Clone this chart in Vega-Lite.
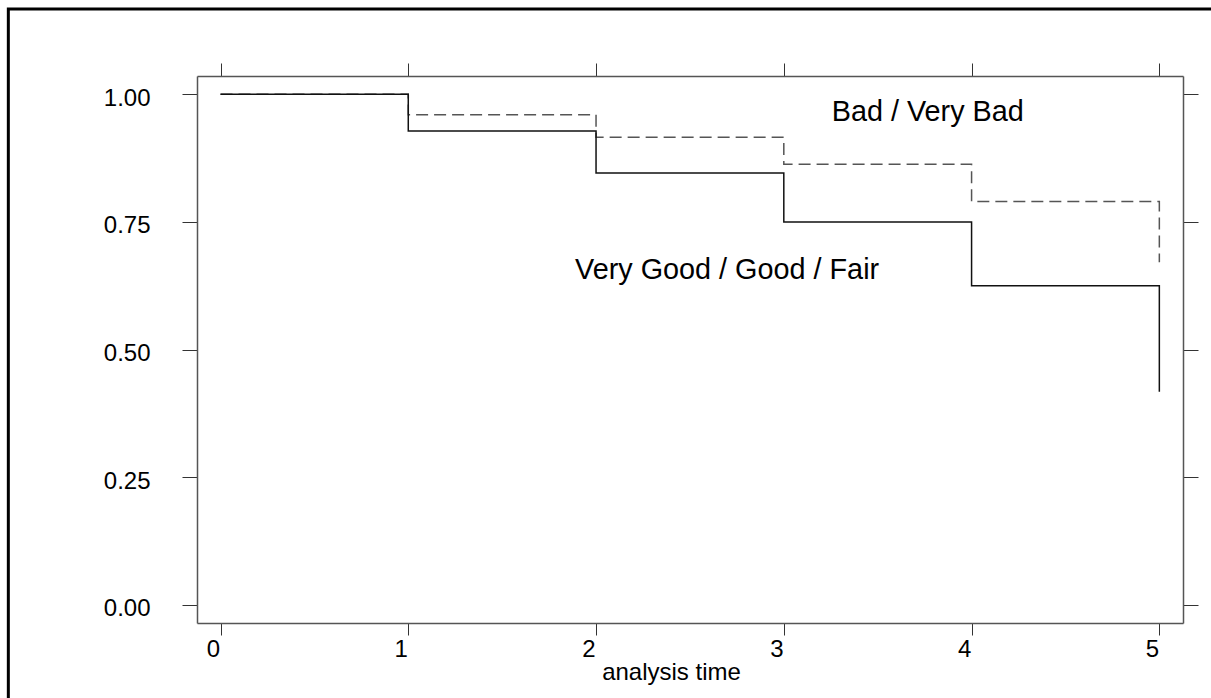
{
  "$schema": "https://vega.github.io/schema/vega-lite/v6.json",
  "autosize": "none",
  "width": 986,
  "height": 547,
  "padding": {"left": 197, "top": 76, "right": 28, "bottom": 75},
  "background": "white",
  "config": {
    "view": {"stroke": null},
    "font": "Liberation Sans",
    "axis": {"grid": false, "labelFont": "Liberation Sans", "titleFont": "Liberation Sans", "labelColor": "#000", "titleColor": "#000", "tickColor": "#333", "tickWidth": 1, "domainColor": "#555", "domainWidth": 1.5, "labelFlush": false, "labelOverlap": false}
  },
  "datasets": {
    "good": [
      {"t": 0, "s": 1.0},
      {"t": 1, "s": 0.928},
      {"t": 2, "s": 0.846},
      {"t": 3, "s": 0.75},
      {"t": 4, "s": 0.625},
      {"t": 5, "s": 0.417}
    ],
    "bad": [
      {"t": 0, "s": 1.0},
      {"t": 1, "s": 0.96},
      {"t": 2, "s": 0.916},
      {"t": 3, "s": 0.863},
      {"t": 4, "s": 0.79},
      {"t": 5, "s": 0.671}
    ]
  },
  "resolve": {"axis": {"x": "independent", "y": "independent"}},
  "layer": [
    {
      "data": {"name": "bad"},
      "mark": {"type": "line", "interpolate": "step-after", "color": "#555", "strokeWidth": 1.5, "strokeDash": [12, 6]},
      "encoding": {
        "x": {"field": "t", "type": "quantitative", "scale": {"domain": [-0.1252, 5.126], "nice": false, "zero": false},
          "axis": {"orient": "bottom", "values": [0, 1, 2, 3, 4, 5], "format": "d", "labelFontSize": 24, "tickSize": 12, "labelPadding": 2, "labelOffset": -7.5,
            "title": "analysis time", "titleFontSize": 24, "titleFontWeight": "normal", "titleX": 474, "titleY": 56, "titleBaseline": "alphabetic", "titleAlign": "center"}},
        "y": {"field": "s", "type": "quantitative", "scale": {"domain": [-0.0359, 1.0359], "nice": false, "zero": false},
          "axis": {"orient": "left", "values": [0, 0.25, 0.5, 0.75, 1], "format": ".2f", "labelFontSize": 24, "tickSize": 15, "labelPadding": 32, "labelOffset": 4, "title": null}}
      }
    },
    {
      "data": {"name": "good"},
      "mark": {"type": "line", "interpolate": "step-after", "color": "#111", "strokeWidth": 1.5},
      "encoding": {
        "x": {"field": "t", "type": "quantitative", "scale": {"domain": [-0.1252, 5.126], "nice": false, "zero": false},
          "axis": {"orient": "top", "values": [0, 1, 2, 3, 4, 5], "labels": false, "tickSize": 13, "title": null}},
        "y": {"field": "s", "type": "quantitative", "scale": {"domain": [-0.0359, 1.0359], "nice": false, "zero": false},
          "axis": {"orient": "right", "values": [0, 0.25, 0.5, 0.75, 1], "labels": false, "tickSize": 15, "title": null}}
      }
    },
    {
      "data": {"values": [{"label": "Bad / Very Bad"}]},
      "mark": {"type": "text", "align": "left", "baseline": "alphabetic", "fontSize": 28.8, "font": "Liberation Sans", "color": "#000"},
      "encoding": {
        "x": {"datum": 3.255, "type": "quantitative", "scale": {"domain": [-0.1252, 5.126], "nice": false, "zero": false}, "axis": null},
        "y": {"datum": 0.9483, "type": "quantitative", "scale": {"domain": [-0.0359, 1.0359], "nice": false, "zero": false}, "axis": null},
        "text": {"field": "label"}
      }
    },
    {
      "data": {"values": [{"label": "Very Good / Good / Fair"}]},
      "mark": {"type": "text", "align": "left", "baseline": "alphabetic", "fontSize": 28.8, "font": "Liberation Sans", "color": "#000"},
      "encoding": {
        "x": {"datum": 1.888, "type": "quantitative", "scale": {"domain": [-0.1252, 5.126], "nice": false, "zero": false}, "axis": null},
        "y": {"datum": 0.6381, "type": "quantitative", "scale": {"domain": [-0.0359, 1.0359], "nice": false, "zero": false}, "axis": null},
        "text": {"field": "label"}
      }
    },
    {
      "data": {"values": [{"frame": "outer"}]},
      "mark": {"type": "rect", "fill": null, "stroke": "#000", "strokeWidth": 3, "clip": false},
      "encoding": {
        "x": {"datum": -1.130, "type": "quantitative", "scale": {"domain": [-0.1252, 5.126], "nice": false, "zero": false}, "axis": null},
        "x2": {"datum": 5.4},
        "y": {"datum": 1.167, "type": "quantitative", "scale": {"domain": [-0.0359, 1.0359], "nice": false, "zero": false}, "axis": null},
        "y2": {"datum": -0.2}
      }
    }
  ]
}
